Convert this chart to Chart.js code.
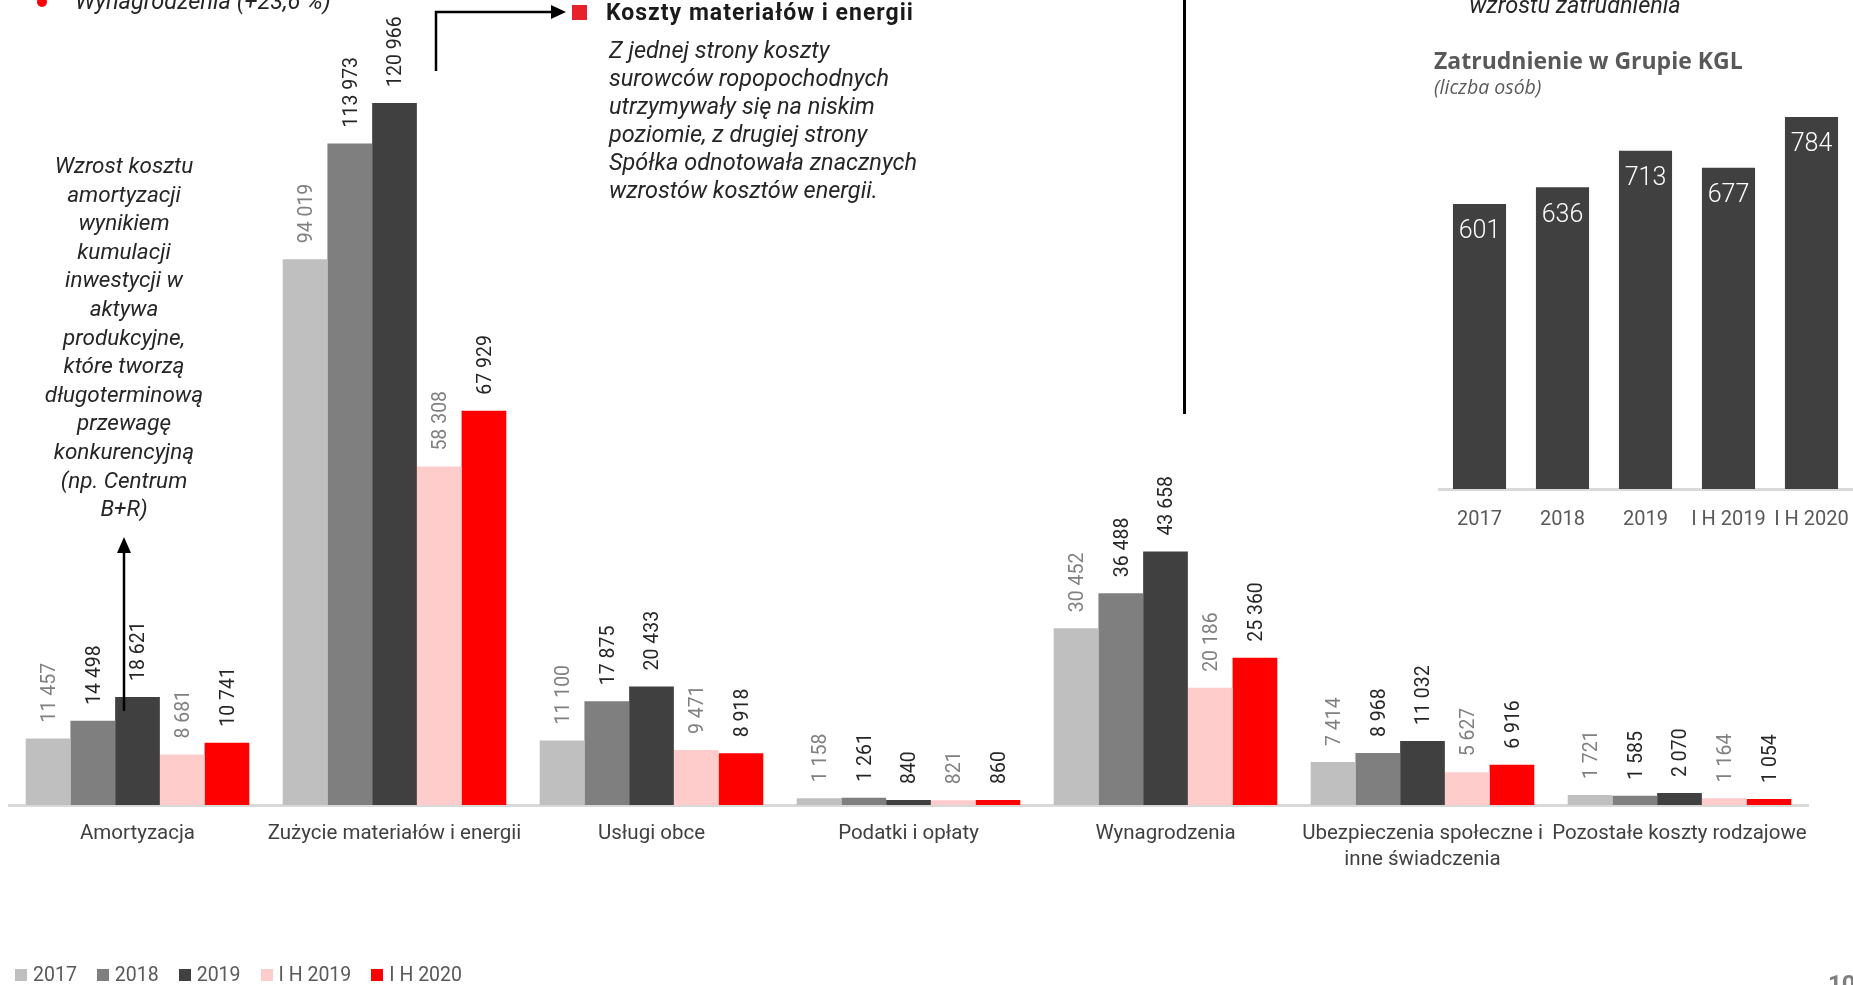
<!DOCTYPE html>
<html lang="pl">
<head>
<meta charset="utf-8">
<title>Koszty rodzajowe</title>
<script src="https://cdn.jsdelivr.net/npm/chart.js@4.4.1/dist/chart.umd.min.js"></script>
<style>
  html, body { margin: 0; padding: 0; background: #fff; overflow: hidden; }
  body { width: 1853px; height: 985px; position: relative; font-family: Roboto, sans-serif; color: #262626; }
  .abs { position: absolute; }
  #main { position: absolute; left: 0; top: 0; }
  #emp { position: absolute; left: 1438px; top: 100px; }
  .note { font-style: italic; font-size: 23.5px; color: #262626; }
  #legend { position: absolute; left: 15px; top: 963px; display: flex; align-items: center; font-size: 19.5px; color: #595959; }
  #legend .item { display: flex; align-items: center; margin-right: 20px; }
  #legend .box { width: 12px; height: 12px; margin-right: 6px; }
</style>
</head>
<body>
<canvas id="main" width="1853" height="985" style="width:1853px;height:985px"></canvas>
<canvas id="emp" width="415" height="450" style="width:415px;height:450px"></canvas>

<!-- annotations -->
<svg class="abs" style="left:0;top:0" width="1853" height="985">
  <circle cx="42" cy="2" r="5" fill="#ff0000"></circle>
  <line x1="124" y1="711" x2="124" y2="550" stroke="#000" stroke-width="2.5"></line>
  <polygon points="124,537 117,553 131,553" fill="#000"></polygon>
  <polyline points="436,71 436,12 552,12" fill="none" stroke="#000" stroke-width="2.5"></polyline>
  <polygon points="566,12 551,5 551,19" fill="#000"></polygon>
</svg>
<div class="abs note" style="left:75px;top:-13px;line-height:28px;">Wynagrodzenia (+23,6 %)</div>
<div class="abs note" style="left:4px;top:151px;width:240px;text-align:center;line-height:28.6px;font-size:22.5px;">Wzrost kosztu<br>amortyzacji<br>wynikiem<br>kumulacji<br>inwestycji w<br>aktywa<br>produkcyjne,<br>które tworzą<br>długoterminową<br>przewagę<br>konkurencyjną<br>(np. Centrum<br>B+R)</div>
<div class="abs" style="left:572px;top:5px;width:15px;height:15px;background:#e8202a;"></div>
<div class="abs" style="left:606px;top:0px;font-weight:bold;font-size:23px;letter-spacing:1px;line-height:26px;color:#1a1a1a;">Koszty materiałów i energii</div>
<div class="abs note" style="left:609px;top:36px;line-height:28.1px;">Z jednej strony koszty<br>surowców ropopochodnych<br>utrzymywały się na niskim<br>poziomie, z drugiej strony<br>Spółka odnotowała znacznych<br>wzrostów kosztów energii.</div>
<div class="abs" style="left:1183px;top:0;width:2.5px;height:414px;background:#000;"></div>
<div class="abs note" style="left:1375px;top:-9px;width:400px;text-align:center;line-height:28px;">wzrostu zatrudnienia</div>
<div class="abs" style="left:1434px;top:45px;font-family:'Open Sans',sans-serif;font-weight:bold;font-size:23px;line-height:30px;color:#595959;">Zatrudnienie w Grupie KGL</div>
<div class="abs" style="left:1434px;top:75px;font-family:'Open Sans',sans-serif;font-style:italic;font-size:19.5px;line-height:24px;color:#595959;">(liczba osób)</div>
<div class="abs" style="left:1828px;top:970px;font-weight:bold;font-size:24px;line-height:28px;color:#7f7f7f;">10</div>
<div id="legend"></div>

<script>
// koszty rodzajowe (tys. zł)
const categories = [
  "Amortyzacja",
  "Zużycie materiałów i energii",
  "Usługi obce",
  "Podatki i opłaty",
  "Wynagrodzenia",
  ["Ubezpieczenia społeczne i", "inne świadczenia"],
  "Pozostałe koszty rodzajowe"
];
const seriesLabels = ["2017", "2018", "2019", "I H 2019", "I H 2020"];
const v2017 = [11457, 94019, 11100, 1158, 30452, 7414, 1721];
const v2018 = [14498, 113973, 17875, 1261, 36488, 8968, 1585];
const v2019 = [18621, 120966, 20433, 840, 43658, 11032, 2070];
const vIH2019 = [8681, 58308, 9471, 821, 20186, 5627, 1164];
const vIH2020 = [10741, 67929, 8918, 860, 25360, 6916, 1054];

// zatrudnienie w Grupie KGL
const empYears = ["2017", "2018", "2019", "I H 2019", "I H 2020"];
const empValues = [601, 636, 713, 677, 784];

const seriesColors = ["#bfbfbf", "#7f7f7f", "#404040", "#ffcccc", "#ff0000"];
const labelColors = ["#808080", "#262626", "#262626", "#808080", "#262626"];

Chart.defaults.font.family = "Roboto, sans-serif";

function fmt(v) {
  return String(v).replace(/\B(?=(\d{3})+(?!\d))/g, " ");
}

// pionowe etykiety nad słupkami
const valueLabels = {
  id: "valueLabels",
  afterDatasetsDraw(chart) {
    const ctx = chart.ctx;
    chart.data.datasets.forEach((ds, i) => {
      chart.getDatasetMeta(i).data.forEach((bar, j) => {
        ctx.save();
        ctx.translate(bar.x + 2, bar.y - 16);
        ctx.rotate(-Math.PI / 2);
        ctx.font = "19.5px Roboto, sans-serif";
        ctx.fillStyle = labelColors[i];
        ctx.textAlign = "left";
        ctx.textBaseline = "middle";
        ctx.fillText(fmt(ds.data[j]), 0, 0);
        ctx.restore();
      });
    });
  }
};

// etykiety wewnątrz słupków zatrudnienia
const insideLabels = {
  id: "insideLabels",
  afterDatasetsDraw(chart) {
    const ctx = chart.ctx;
    chart.getDatasetMeta(0).data.forEach((bar, j) => {
      ctx.save();
      ctx.font = "300 25px Roboto, sans-serif";
      ctx.fillStyle = "#ffffff";
      ctx.textAlign = "center";
      ctx.textBaseline = "middle";
      ctx.fillText(String(chart.data.datasets[0].data[j]), bar.x, bar.y + 28);
      ctx.restore();
    });
  }
};

const seriesValues = [v2017, v2018, v2019, vIH2019, vIH2020];

new Chart(document.getElementById("main"), {
  type: "bar",
  data: {
    labels: categories,
    datasets: seriesLabels.map((label, i) => ({
      label: label,
      data: seriesValues[i],
      backgroundColor: seriesColors[i],
      borderWidth: 0
    }))
  },
  options: {
    responsive: false,
    animation: false,
    layout: { padding: { left: 9, right: 45, top: 0, bottom: 0 } },
    datasets: { bar: { categoryPercentage: 0.87, barPercentage: 1 } },
    plugins: { legend: { display: false }, tooltip: { enabled: false } },
    scales: {
      x: {
        grid: { display: false, drawTicks: false },
        border: { color: "#d9d9d9", width: 3 },
        ticks: {
          color: "#404040",
          font: { size: 20.5, lineHeight: 1.27 },
          padding: 16,
          autoSkip: false,
          maxRotation: 0
        },
        afterFit: (scale) => {
          scale.height = 180;
          scale.paddingLeft = 0;
          scale.paddingRight = 0;
        }
      },
      y: { display: false, min: 0, max: 138700 }
    }
  },
  plugins: [valueLabels]
});

new Chart(document.getElementById("emp"), {
  type: "bar",
  data: {
    labels: empYears,
    datasets: [{ data: empValues, backgroundColor: "#404040", borderWidth: 0 }]
  },
  options: {
    responsive: false,
    animation: false,
    layout: { padding: 0 },
    datasets: { bar: { categoryPercentage: 0.64, barPercentage: 1 } },
    plugins: { legend: { display: false }, tooltip: { enabled: false } },
    scales: {
      x: {
        grid: { display: false, drawTicks: false },
        border: { color: "#d9d9d9", width: 3 },
        ticks: {
          color: "#595959",
          font: { size: 20 },
          padding: 19,
          autoSkip: false,
          maxRotation: 0
        },
        afterFit: (scale) => {
          scale.height = 61;
          scale.paddingLeft = 0;
          scale.paddingRight = 0;
        }
      },
      y: { display: false, min: 0, max: 820 }
    }
  },
  plugins: [insideLabels]
});

// legenda
const legend = document.getElementById("legend");
seriesLabels.forEach((label, i) => {
  const item = document.createElement("div");
  item.className = "item";
  const box = document.createElement("span");
  box.className = "box";
  box.style.background = seriesColors[i];
  const txt = document.createElement("span");
  txt.textContent = label;
  item.appendChild(box);
  item.appendChild(txt);
  legend.appendChild(item);
});
</script>
</body>
</html>
